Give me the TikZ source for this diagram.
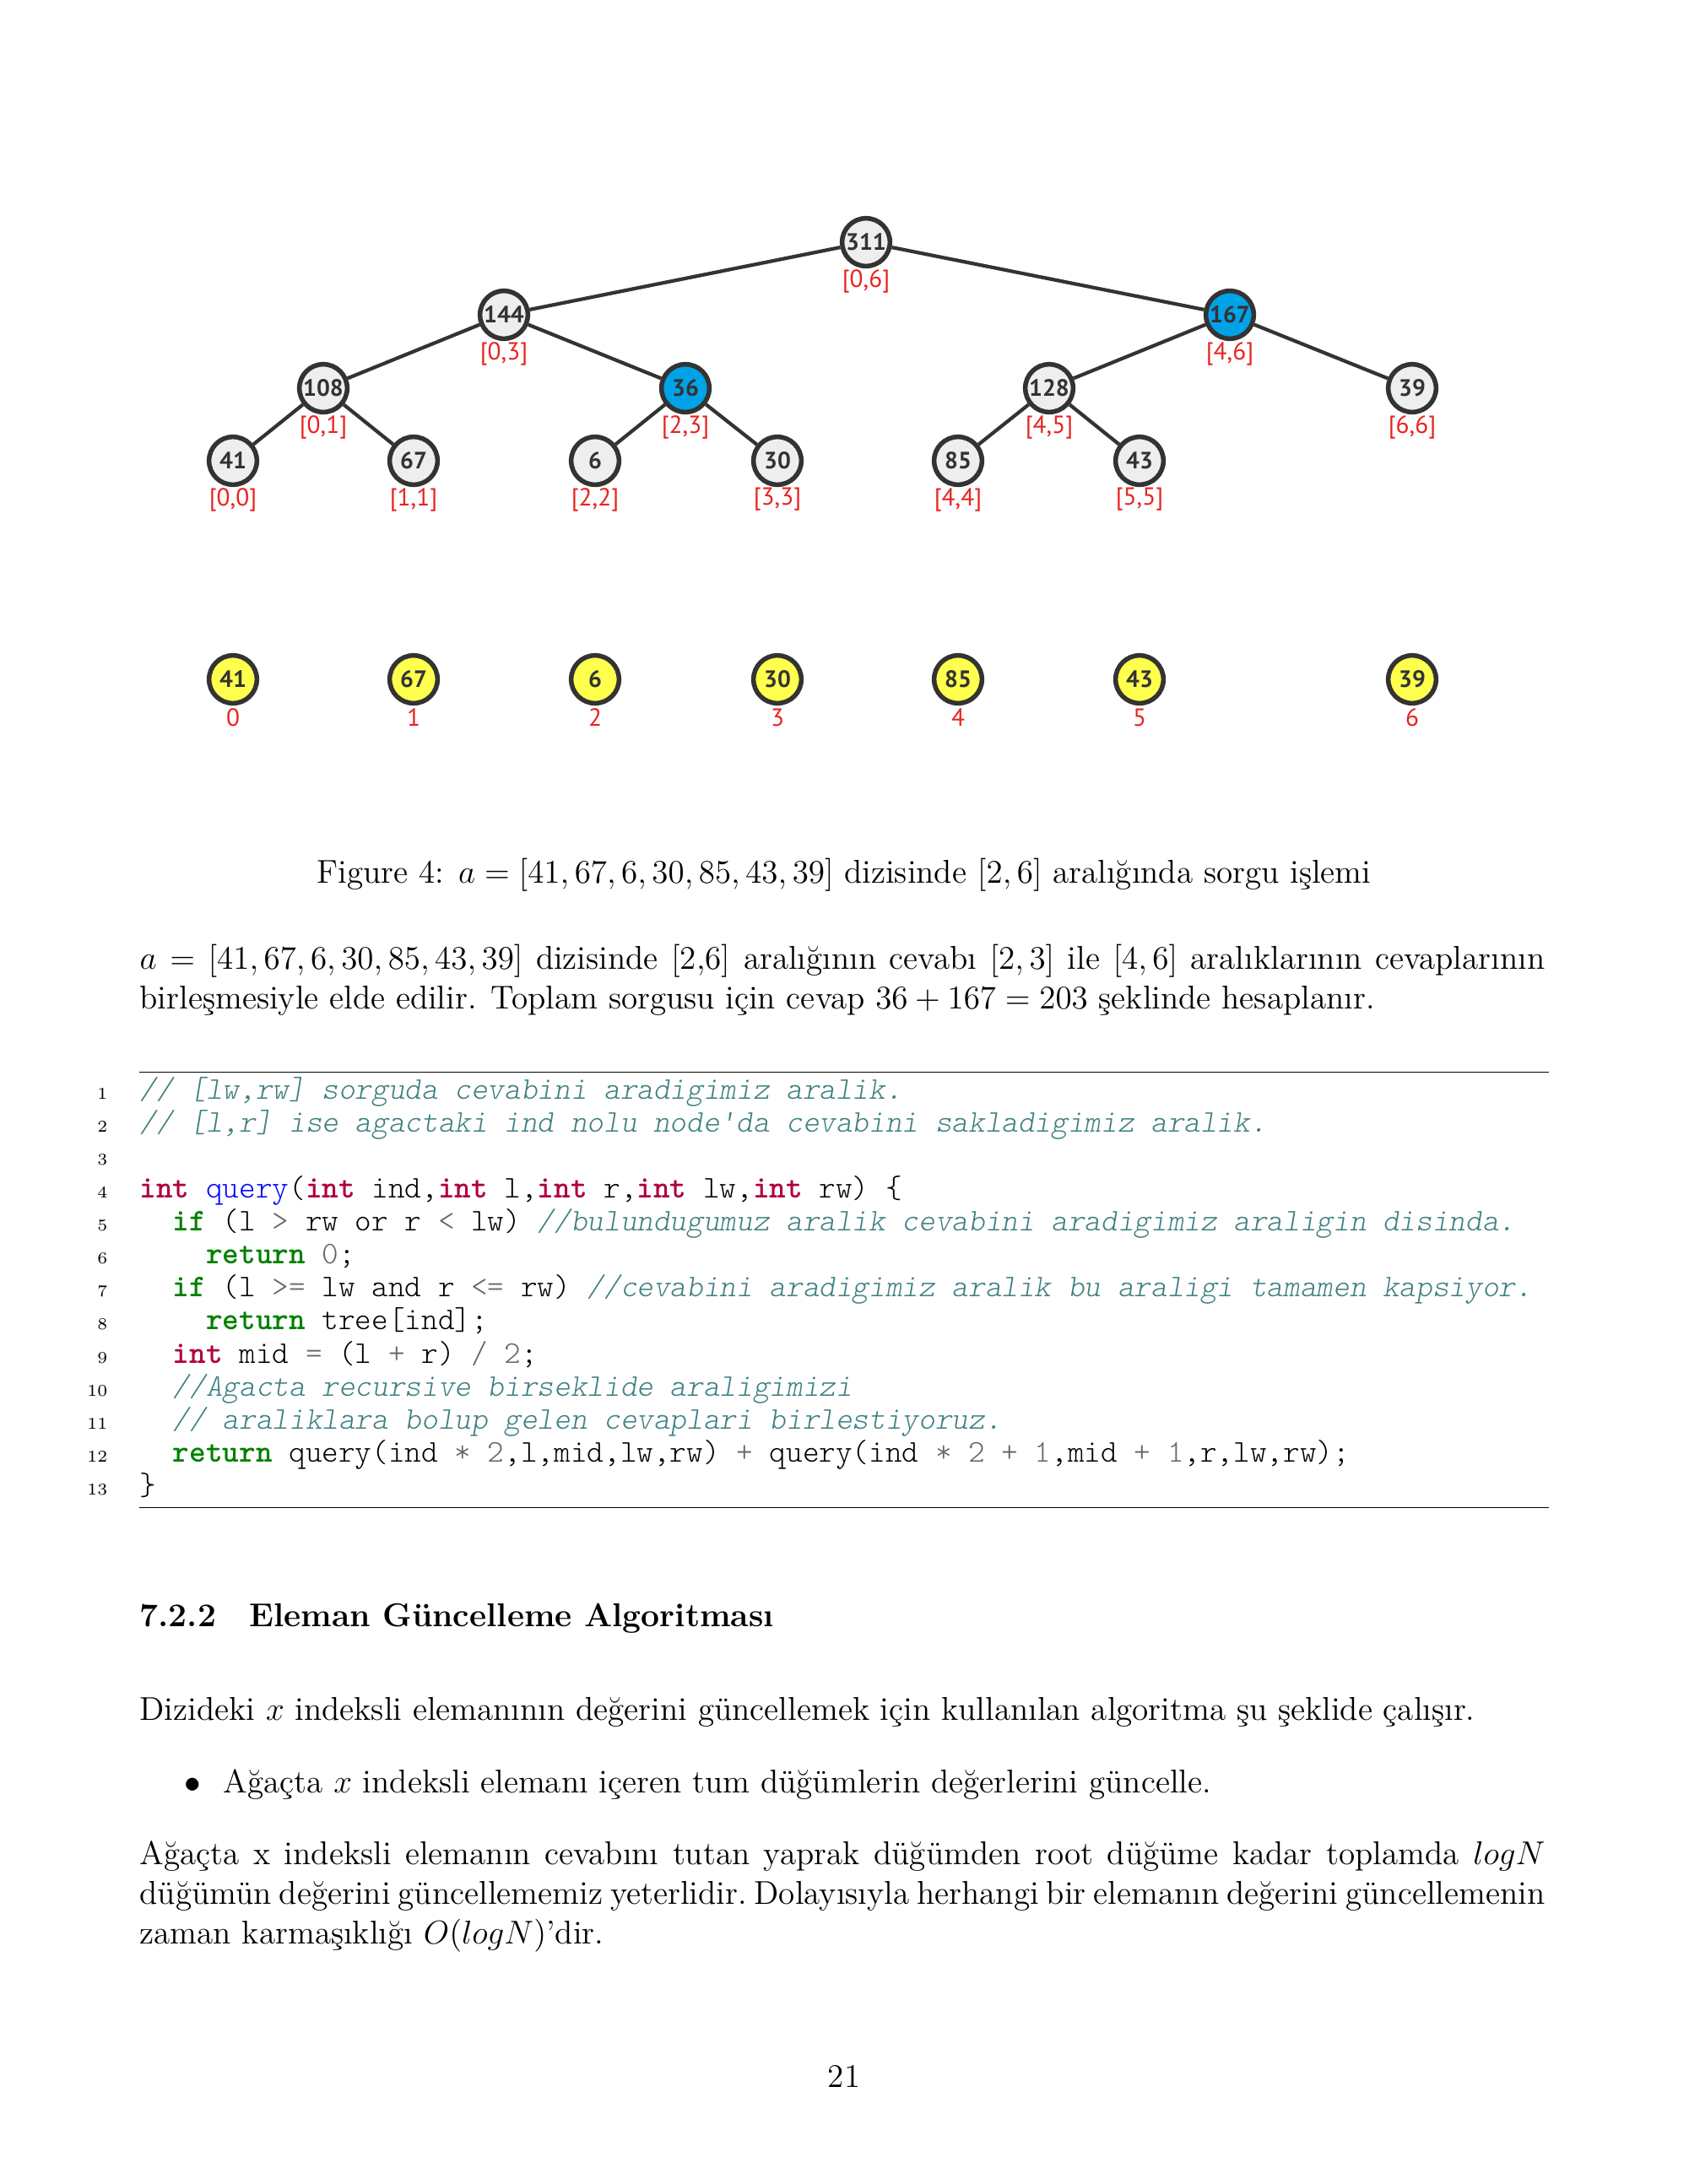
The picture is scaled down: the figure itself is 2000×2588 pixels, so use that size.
\documentclass[tikz,border=0pt]{standalone}
\usepackage{fontspec}
\usepackage{xcolor}
\usepackage{tikz}

\newfontfamily\treefont{PT Sans}

\definecolor{edgegray}{HTML}{333333}
\definecolor{nodegray}{HTML}{EEEEEE}
\definecolor{hitblue}{HTML}{00A2E8}
\definecolor{leafyellow}{HTML}{FFFF4D}
\definecolor{rangered}{HTML}{E8231F}
\definecolor{kwtype}{HTML}{B00040}
\definecolor{kwgreen}{HTML}{008000}
\definecolor{funblue}{HTML}{0000FF}
\definecolor{comteal}{HTML}{408080}
\definecolor{opgray}{HTML}{666666}

% code colouring, pygments-like
\newcommand\ctype[1]{\textcolor{kwtype}{\bfseries #1}}
\newcommand\ckw[1]{\textcolor{kwgreen}{\bfseries #1}}
\newcommand\cfun[1]{\textcolor{funblue}{#1}}
\newcommand\ccom[1]{\textcolor{comteal}{\itshape #1}}
\newcommand\cop[1]{\textcolor{opgray}{#1}}

\begin{document}
\begin{tikzpicture}[
  x=0.010795cm, y=-0.010795cm,
  seg/.style={circle, draw=edgegray, line width=1.7pt, fill=nodegray, minimum size=17.4pt, inner sep=0pt,
    text=edgegray, font=\treefont\bfseries\fontsize{8.6}{8.6}\selectfont},
  hit/.style={seg, fill=hitblue},
  leaf/.style={seg, fill=leafyellow},
  lbl/.style={inner sep=0pt, text=rangered, font=\treefont\fontsize{9}{10}\selectfont},
  link/.style={draw=edgegray, line width=1.3pt},
  txt/.style={inner sep=0pt, font=\fontsize{12}{14.5}\selectfont},
  para/.style={txt, anchor=base west, text width=511pt, align=justify,
    execute at begin node={\hyphenpenalty=10000\exhyphenpenalty=10000}},
  code/.style={inner sep=0pt, anchor=base west, font=\ttfamily\fontseries{l}\fontsize{11.48}{12}\selectfont},
  lineno/.style={inner sep=0pt, anchor=base east, font=\fontsize{6}{7}\selectfont},
  coderule/.style={line width=0.5pt}
]
\fill[white] (0,0) rectangle (2000,2588);
\path[use as bounding box] (0,0) rectangle (2000,2588);

% segment tree
\node[seg] (s06) at (1026,287) {311};
\node[seg] (s03) at (597,373) {144};
\node[hit] (s46) at (1457,373) {167};
\node[seg] (s01) at (383,460) {108};
\node[hit] (s23) at (812,460) {36};
\node[seg] (s45) at (1243,460) {128};
\node[seg] (s66) at (1673,460) {39};
\node[seg] (s00) at (276,546) {41};
\node[seg] (s11) at (490,546) {67};
\node[seg] (s22) at (705,546) {6};
\node[seg] (s33) at (921,546) {30};
\node[seg] (s44) at (1135,546) {85};
\node[seg] (s55) at (1350,546) {43};

\node[lbl] (r06) at (1026,333) {[0,6]};
\node[lbl] (r03) at (597,419) {[0,3]};
\node[lbl] (r46) at (1457,419) {[4,6]};
\node[lbl] (r01) at (383,506) {[0,1]};
\node[lbl] (r23) at (812,506) {[2,3]};
\node[lbl] (r45) at (1243,506) {[4,5]};
\node[lbl] (r66) at (1673,506) {[6,6]};
\node[lbl] (r00) at (276,592) {[0,0]};
\node[lbl] (r11) at (490,592) {[1,1]};
\node[lbl] (r22) at (705,592) {[2,2]};
\node[lbl] (r33) at (921,592) {[3,3]};
\node[lbl] (r44) at (1135,592) {[4,4]};
\node[lbl] (r55) at (1350,592) {[5,5]};

\draw[link] (s06) -- (s03);
\draw[link] (s06) -- (s46);
\draw[link] (s03) -- (s01);
\draw[link] (s03) -- (s23);
\draw[link] (s46) -- (s45);
\draw[link] (s46) -- (s66);
\draw[link] (s01) -- (s00);
\draw[link] (s01) -- (s11);
\draw[link] (s23) -- (s22);
\draw[link] (s23) -- (s33);
\draw[link] (s45) -- (s44);
\draw[link] (s45) -- (s55);

% array
\node[leaf] (a0) at (276,805) {41};
\node[leaf] (a1) at (490,805) {67};
\node[leaf] (a2) at (705,805) {6};
\node[leaf] (a3) at (921,805) {30};
\node[leaf] (a4) at (1135,805) {85};
\node[leaf] (a5) at (1350,805) {43};
\node[leaf] (a6) at (1673,805) {39};
\node[lbl] (i0) at (276,850) {0};
\node[lbl] (i1) at (490,850) {1};
\node[lbl] (i2) at (705,850) {2};
\node[lbl] (i3) at (921,850) {3};
\node[lbl] (i4) at (1135,850) {4};
\node[lbl] (i5) at (1350,850) {5};
\node[lbl] (i6) at (1673,850) {6};

% caption and text
\node[txt, anchor=base] (cap) at (1000,1046) {Figure 4: $a = [41, 67, 6, 30, 85, 43, 39]$ dizisinde $[2, 6]$ aralığında sorgu işlemi};
\node[para] (p1) at (165,1148) {$a = [41, 67, 6, 30, 85, 43, 39]$ dizisinde [2,6] aralığının cevabı $[2, 3]$ ile $[4, 6]$ aralıklarının cevaplarının\linebreak birleşmesiyle elde edilir. Toplam sorgusu için cevap $36 + 167 = 203$ şeklinde hesaplanır.};

% listing
\draw[coderule] (165,1270.5) -- (1835,1270.5);
\draw[coderule] (165,1786.5) -- (1835,1786.5);
\foreach \n in {1,...,13}
  \node[lineno] (ln\n) at (128,{1302.5+39.06*(\n-1)}) {\n};
\node[code] (c1) at (165,1302.5) {\ccom{// [lw,rw] sorguda cevabini aradigimiz aralik.}};
\node[code] (c2) at (165,1341.6) {\ccom{// [l,r] ise agactaki ind nolu node'da cevabini sakladigimiz aralik.}};
\node[code] (c4) at (165,1419.7) {\ctype{int} \cfun{query}(\ctype{int} ind,\ctype{int} l,\ctype{int} r,\ctype{int} lw,\ctype{int} rw) \{};
\node[code] (c5) at (165,1458.7) {~~\ckw{if} (l \cop{>} rw or r \cop{<} lw) \ccom{//bulundugumuz aralik cevabini aradigimiz araligin disinda.}};
\node[code] (c6) at (165,1497.8) {~~~~\ckw{return} \cop{0};};
\node[code] (c7) at (165,1536.9) {~~\ckw{if} (l \cop{>=} lw and r \cop{<=} rw) \ccom{//cevabini aradigimiz aralik bu araligi tamamen kapsiyor.}};
\node[code] (c8) at (165,1575.9) {~~~~\ckw{return} tree[ind];};
\node[code] (c9) at (165,1615.0) {~~\ctype{int} mid \cop{=} (l \cop{+} r) \cop{/} \cop{2};};
\node[code] (c10) at (165,1654.0) {~~\ccom{//Agacta recursive birseklide araligimizi}};
\node[code] (c11) at (165,1693.1) {~~\ccom{// araliklara bolup gelen cevaplari birlestiyoruz.}};
\node[code] (c12) at (165,1732.2) {~~\ckw{return} query(ind \cop{*} \cop{2},l,mid,lw,rw) \cop{+} query(ind \cop{*} \cop{2} \cop{+} \cop{1},mid \cop{+} \cop{1},r,lw,rw);};
\node[code] (c13) at (165,1771.2) {\}};

% section 7.2.2
\node[txt, anchor=base west, font=\bfseries\fontsize{12}{14.5}\selectfont] (sec) at (165,1927) {7.2.2\quad Eleman Güncelleme Algoritması};
\node[txt, anchor=base west] (p2) at (165,2038) {Dizideki $x$ indeksli elemanının değerini güncellemek için kullanılan algoritma şu şeklide çalışır.};
\node[txt, anchor=base east] (bul) at (239,2124) {$\bullet$};
\node[txt, anchor=base west] (item) at (264,2124) {Ağaçta $x$ indeksli elemanı içeren tum düğümlerin değerlerini güncelle.};
\node[para, execute at begin node={\frenchspacing\hyphenpenalty=10000}] (p3) at (165,2209) {Ağaçta x indeksli elemanın cevabını tutan yaprak düğümden root düğüme kadar toplamda $logN$\linebreak düğümün değerini güncellememiz yeterlidir. Dolayısıyla herhangi bir elemanın değerini güncellemenin\linebreak zaman karmaşıklığı $O(logN)$'dir.};

\node[txt, anchor=base] (pg) at (1000,2473) {21};
\end{tikzpicture}
\end{document}
